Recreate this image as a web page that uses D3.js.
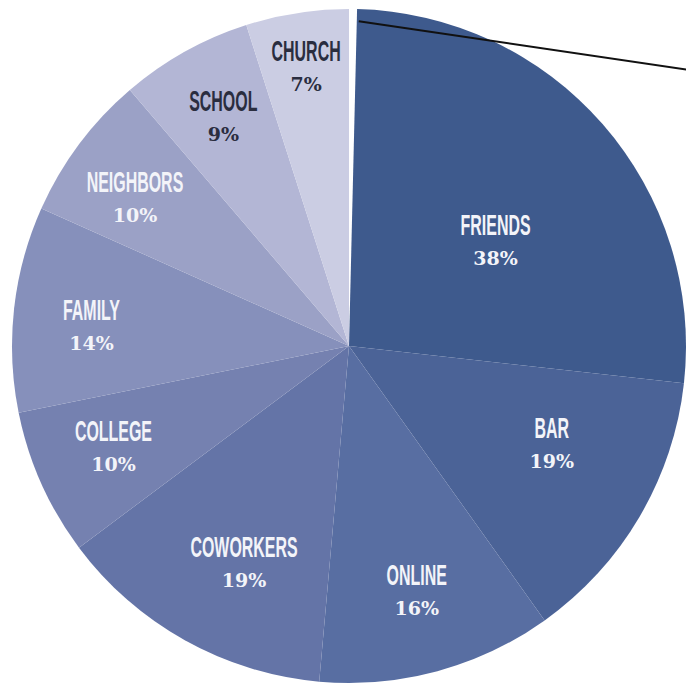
<!DOCTYPE html>
<html>
<head>
<meta charset="utf-8">
<script src="https://cdn.jsdelivr.net/npm/d3@7"></script>
<style>
  html, body { margin: 0; padding: 0; background: #fff; overflow: hidden; }
  svg { display: block; }
  .name { font-family: "Liberation Sans", Arial, sans-serif; font-weight: 700; font-size: 29px; }
  .pct  { font-family: "DejaVu Serif", serif; font-weight: 700; font-size: 19px; }
</style>
</head>
<body>
<svg id="chart" width="686" height="688"></svg>
<script>
// Where people met: share of respondents by place
const categories = ["FRIENDS", "BAR", "ONLINE", "COWORKERS", "COLLEGE", "FAMILY", "NEIGHBORS", "SCHOOL", "CHURCH"];
const shares     = [38, 19, 16, 19, 10, 14, 10, 9, 7];
const pctLabels  = ["38%", "19%", "16%", "19%", "10%", "14%", "10%", "9%", "7%"];

// Slice fills, darkest to lightest, going clockwise from 12 o'clock
const sliceColors = ["#3e5a8d", "#4b6397", "#586ea2", "#6474a7", "#7581b0", "#8690bb", "#9ba1c6", "#b3b6d5", "#cbcde3"];
const darkText = new Set(["SCHOOL", "CHURCH"]);

// Layout
const width = 686, height = 688;
const cx = 349, cy = 346, radius = 337;
const seamGap = 0.024;          // white wedge between the last and first slice
const labelRadius = 258;
const labelTweak = {            // radius / angular shift for labels that sit off the centroid line
  FRIENDS:   { r: 178, turn: 0.115 },
  BAR:       { r: 227, turn: -0.065 },
  COWORKERS: { r: 245, turn: -0.066 },
  FAMILY:    { turn: -0.049 },
  NEIGHBORS: { turn: -0.049 },
  CHURCH:    { r: 278 }
};
const nameScaleX = 0.55;

const svg = d3.select("#chart");
const g = svg.append("g").attr("transform", `translate(${cx},${cy})`);

const data = categories.map((c, i) => ({ name: c, value: shares[i], pct: pctLabels[i] }));
const color = d3.scaleOrdinal().domain(categories).range(sliceColors);

const arcs = d3.pie().sort(null).value(d => d.value).startAngle(0).endAngle(2 * Math.PI)(data);
arcs[0].startAngle += seamGap;

const arc = d3.arc().innerRadius(0).outerRadius(radius);

g.selectAll("path.slice")
  .data(arcs)
  .join("path")
  .attr("class", "slice")
  .attr("d", arc)
  .attr("fill", d => color(d.data.name));

// Labels
const labels = g.selectAll("g.label")
  .data(arcs)
  .join("g")
  .attr("class", "label")
  .attr("transform", d => {
    const t = labelTweak[d.data.name] || {};
    const r = t.r || labelRadius;
    const a = (d.startAngle + d.endAngle) / 2 + (t.turn || 0);
    return `translate(${r * Math.sin(a)},${-r * Math.cos(a)})`;
  });

labels.append("text")
  .attr("class", "name")
  .attr("text-anchor", "middle")
  .attr("transform", `translate(0,-10) scale(${nameScaleX},1)`)
  .attr("fill", d => darkText.has(d.data.name) ? "#2a2d3f" : "#f3f4f9")
  .text(d => d.data.name);

labels.append("text")
  .attr("class", "pct")
  .attr("text-anchor", "middle")
  .attr("y", 20)
  .attr("fill", d => darkText.has(d.data.name) ? "#2a2d3f" : "#f3f4f9")
  .text(d => d.data.pct);

// Leader line running off to the right from the top of the first slice
const first = arcs[0];
const startR = 325, startA = first.startAngle + 0.006;
const x0 = cx + startR * Math.sin(startA), y0 = cy - startR * Math.cos(startA);
const slope = 0.148;
const x1 = width + 10;
svg.append("line")
  .attr("x1", x0).attr("y1", y0)
  .attr("x2", x1).attr("y2", y0 + (x1 - x0) * slope)
  .attr("stroke", "#111")
  .attr("stroke-width", 2);
</script>
</body>
</html>
